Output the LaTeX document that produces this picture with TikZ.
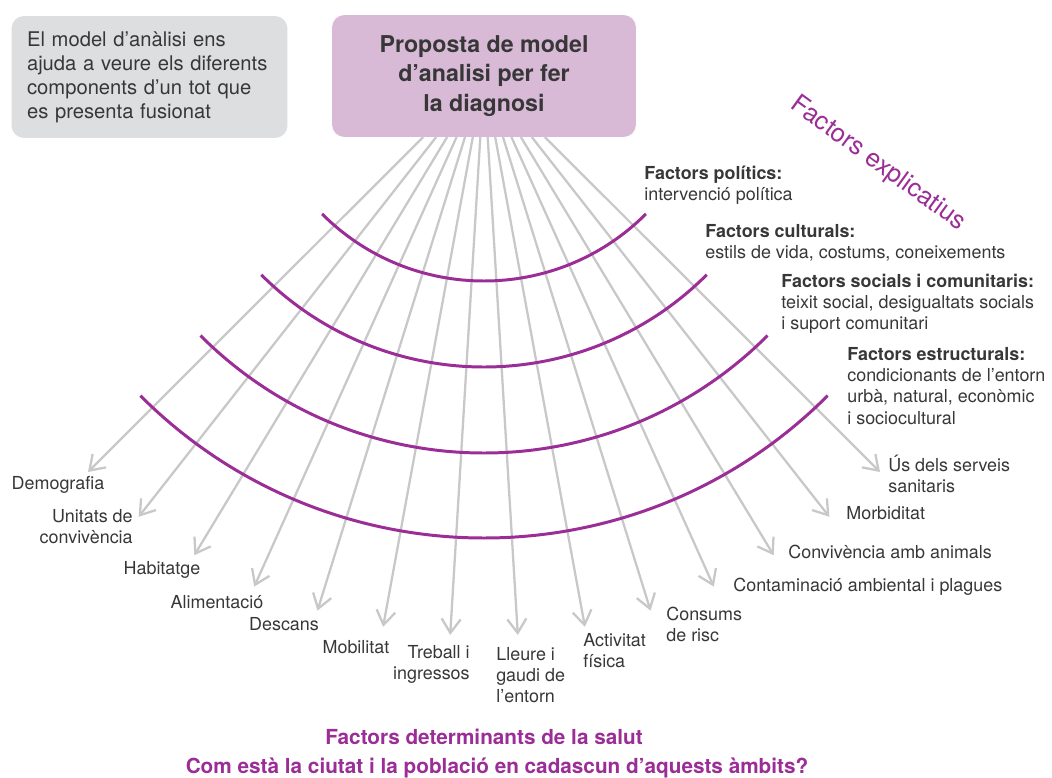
\documentclass[tikz,border=0pt]{standalone}
\usepackage{fontspec}
\setmainfont{TeX Gyre Heros}
\usetikzlibrary{arrows.meta,calc}

\definecolor{lila}{RGB}{155,45,150}
\definecolor{lilabox}{RGB}{216,186,215}
\definecolor{grisbox}{RGB}{221,222,223}
\definecolor{grisline}{RGB}{200,200,200}
\definecolor{textgris}{RGB}{55,55,55}

\tikzset{
  fletxa/.style={draw=grisline, line width=1.3pt, -{Straight Barb[length=2.8mm,width=3.8mm]}},
  anell/.style={draw=lila, line width=1.7pt},
  etiq/.style={font=\fontsize{10.2}{12}\selectfont, text=textgris, inner sep=0pt},
  factor/.style={etiq, anchor=west, align=left},
  titol/.style={font=\bfseries\fontsize{11.8}{14}\selectfont, text=lila, inner sep=0pt}
}

\begin{document}
\begin{tikzpicture}[x=0.02cm, y=-0.02cm]
\useasboundingbox (0,0) rectangle (1052,778);

% the two boxes at the top
\node[fill=grisbox, rounded corners=0.25cm, text width=4.9cm, align=left, inner xsep=0.31cm,
      minimum height=2.44cm, text=textgris, font=\fontsize{11.5}{13.6}\selectfont] (intro) at (149.5,77)
  {El model d’anàlisi ens\\ ajuda a veure els diferents\\ components d’un tot que\\ es presenta fusionat};
\node[fill=lilabox, rounded corners=0.25cm, minimum width=6.08cm, minimum height=2.44cm, outer sep=0pt,
      align=center, text=textgris, font=\bfseries\fontsize{13.2}{16.6}\selectfont] (model) at (484,76)
  {Proposta de model\\ d’analisi per fer\\ la diagnosi};

% fan of arrows, all from the box
\foreach \i in {0,...,13} {
  \coordinate (t\i) at ($(model.center)+({135-\i*90/13}:560)$);
  \draw[fletxa] (model) -- (t\i);
}

% the four rings of explaining factors
\coordinate (centre) at (484,52);
\foreach \r in {229,315,401,486}
  \draw[anell] ($(centre)+(135:\r)$) arc[start angle=135, end angle=45, radius=\r];

% labels at the arrow tips
\node[etiq] (demografia) at (58,485) {Demografia};
\node[etiq, anchor=east, align=right] (unitats) at (133,527) {Unitats de\\ convivència};
\node[etiq] (habitatge) at (162,570) {Habitatge};
\node[etiq] (alimentacio) at (217,602) {Alimentació};
\node[etiq] (descans) at (284,624) {Descans};
\node[etiq] (mobilitat) at (356,647) {Mobilitat};
\node[etiq, anchor=east, align=right] (treball) at (470,664) {Treball i\\ ingressos};
\node[etiq, anchor=west, align=left] (lleure) at (496,675) {Lleure i\\ gaudi de\\ l’entorn};
\node[etiq, anchor=west, align=left] (activitat) at (583,651) {Activitat\\ física};
\node[etiq, anchor=west, align=left] (consums) at (666,624) {Consums\\ de risc};
\node[etiq, anchor=west] (contaminacio) at (733,587) {Contaminació ambiental i plagues};
\node[etiq, anchor=west] (animals) at (788,552) {Convivència amb animals};
\node[etiq, anchor=west] (morbiditat) at (846,513) {Morbiditat};
\node[etiq, anchor=west, align=left] (serveis) at (888,474) {Ús dels serveis\\ sanitaris};

% factor texts, one per ring
\node[factor] (fpol) at (644,185) {\textbf{Factors polítics:}\\ intervenció política};
\node[factor] (fcult) at (705,243) {\textbf{Factors culturals:}\\ estils de vida, costums, coneixements};
\node[factor] (fsoc) at (781,304) {\textbf{Factors socials i comunitaris:}\\ teixit social, desigualtats socials\\ i suport comunitari};
\node[factor] (fest) at (847,386) {\textbf{Factors estructurals:}\\ condicionants de l’entorn\\ urbà, natural, econòmic\\ i sociocultural};

\node[text=lila, font=\fontsize{14.5}{16}\selectfont, rotate=-36, inner sep=0pt] (explicatius) at (878,164) {Factors explicatius};

% bottom titles
\node[titol] (determinants) at (484,737) {Factors determinants de la salut};
\node[titol] (pregunta) at (497,768) {Com està la ciutat i la població en cadascun d’aquests àmbits?};
\end{tikzpicture}
\end{document}
